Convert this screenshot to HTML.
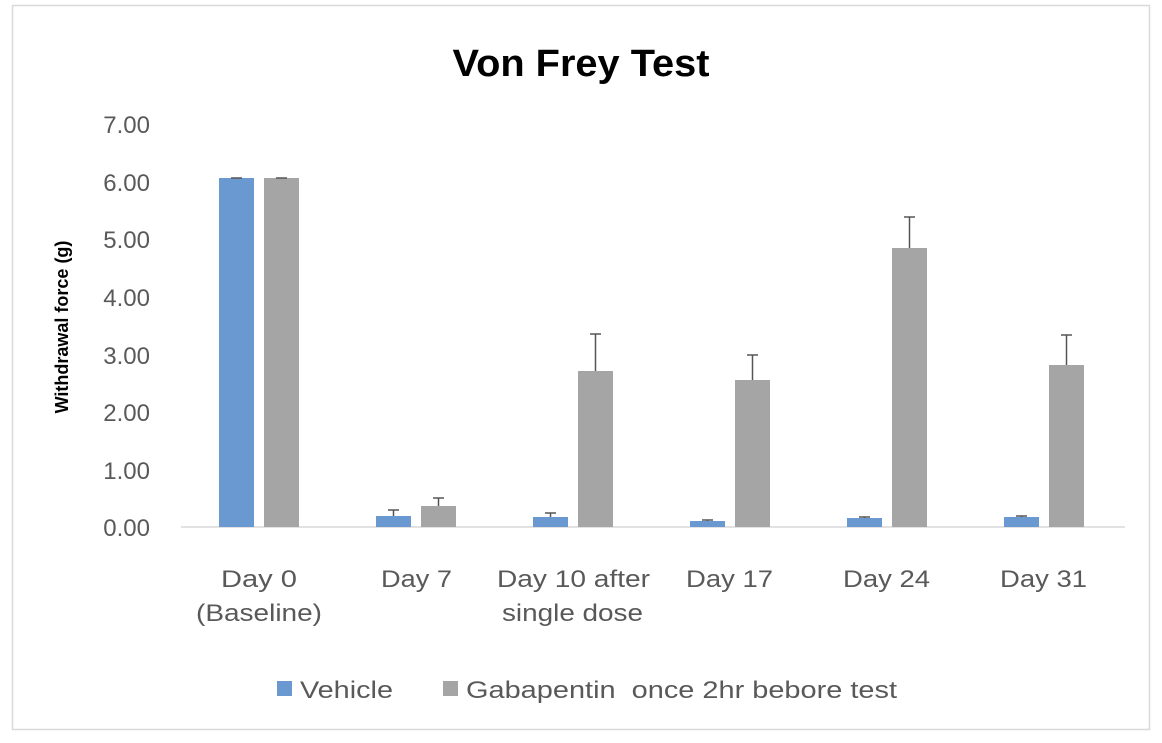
<!DOCTYPE html>
<html><head><meta charset="utf-8"><style>
body{margin:0;background:#fff;}
svg text{font-family:"Liberation Sans",sans-serif;}
</style></head><body>
<svg width="1162" height="738" viewBox="0 0 1162 738" xmlns="http://www.w3.org/2000/svg">
<rect x="0" y="0" width="1162" height="738" fill="#fff"/>
<rect x="12.5" y="5.5" width="1137" height="724" fill="#fff" stroke="#d9d9d9" stroke-width="1.5"/>
<text x="581" y="76" text-anchor="middle" font-size="38" font-weight="bold" fill="#000" textLength="257" lengthAdjust="spacingAndGlyphs">Von Frey Test</text>
<g font-size="24" fill="#595959" text-anchor="end">
<text x="150" y="536">0.00</text>
<text x="150" y="479">1.00</text>
<text x="150" y="421">2.00</text>
<text x="150" y="364">3.00</text>
<text x="150" y="306">4.00</text>
<text x="150" y="248">5.00</text>
<text x="150" y="191">6.00</text>
<text x="150" y="133">7.00</text>
</g>
<text transform="translate(68,327) rotate(-90)" text-anchor="middle" font-size="18" font-weight="bold" fill="#000">Withdrawal force (g)</text>
<line x1="181" y1="527" x2="1125" y2="527" stroke="#d9d9d9" stroke-width="1.5"/>
<g>
<rect x="219" y="178" width="35" height="349" fill="#6a98d0"/>
<rect x="264" y="178" width="35" height="349" fill="#a5a5a5"/>
<rect x="376" y="516" width="35" height="11" fill="#6a98d0"/>
<rect x="421" y="506" width="35" height="21" fill="#a5a5a5"/>
<rect x="533" y="517" width="35" height="10" fill="#6a98d0"/>
<rect x="578" y="371" width="35" height="156" fill="#a5a5a5"/>
<rect x="690" y="521" width="35" height="6" fill="#6a98d0"/>
<rect x="735" y="380" width="35" height="147" fill="#a5a5a5"/>
<rect x="847" y="518" width="35" height="9" fill="#6a98d0"/>
<rect x="892" y="248" width="35" height="279" fill="#a5a5a5"/>
<rect x="1004" y="517" width="35" height="10" fill="#6a98d0"/>
<rect x="1049" y="365" width="35" height="162" fill="#a5a5a5"/>
</g>
<g stroke="#555" stroke-width="1.5">
<line x1="231" y1="178" x2="242" y2="178"/><line x1="276" y1="178" x2="287" y2="178"/>
<line x1="393.5" y1="516" x2="393.5" y2="510"/><line x1="388" y1="510" x2="399" y2="510"/>
<line x1="438.5" y1="506" x2="438.5" y2="498"/><line x1="433" y1="498" x2="444" y2="498"/>
<line x1="550.5" y1="517" x2="550.5" y2="513"/><line x1="545" y1="513" x2="556" y2="513"/>
<line x1="595.5" y1="371" x2="595.5" y2="334"/><line x1="590" y1="334" x2="601" y2="334"/>
<line x1="707.5" y1="521" x2="707.5" y2="520"/><line x1="702" y1="520" x2="713" y2="520"/>
<line x1="752.5" y1="380" x2="752.5" y2="355"/><line x1="747" y1="355" x2="758" y2="355"/>
<line x1="864.5" y1="518" x2="864.5" y2="517"/><line x1="859" y1="517" x2="870" y2="517"/>
<line x1="909.5" y1="248" x2="909.5" y2="217"/><line x1="904" y1="217" x2="915" y2="217"/>
<line x1="1021.5" y1="517" x2="1021.5" y2="516"/><line x1="1016" y1="516" x2="1027" y2="516"/>
<line x1="1066.5" y1="365" x2="1066.5" y2="335"/><line x1="1061" y1="335" x2="1072" y2="335"/>
</g>
<g font-size="24" fill="#595959" lengthAdjust="spacingAndGlyphs">
<text x="221" y="587" textLength="76" lengthAdjust="spacingAndGlyphs">Day 0</text>
<text x="196" y="621" textLength="126" lengthAdjust="spacingAndGlyphs">(Baseline)</text>
<text x="381" y="587" textLength="71" lengthAdjust="spacingAndGlyphs">Day 7</text>
<text x="497" y="587" textLength="153" lengthAdjust="spacingAndGlyphs">Day 10 after</text>
<text x="502" y="621" textLength="141" lengthAdjust="spacingAndGlyphs">single dose</text>
<text x="686" y="587" textLength="87" lengthAdjust="spacingAndGlyphs">Day 17</text>
<text x="843" y="587" textLength="87" lengthAdjust="spacingAndGlyphs">Day 24</text>
<text x="1000" y="587" textLength="87" lengthAdjust="spacingAndGlyphs">Day 31</text>
</g>
<rect x="277" y="681" width="15" height="15" fill="#6a98d0"/>
<text x="300" y="698" font-size="24" fill="#595959" textLength="93" lengthAdjust="spacingAndGlyphs">Vehicle</text>
<rect x="443" y="681" width="15" height="15" fill="#a5a5a5"/>
<text x="466" y="698" font-size="24" fill="#595959" xml:space="preserve" textLength="431" lengthAdjust="spacingAndGlyphs">Gabapentin  once 2hr bebore test</text>
</svg>
</body></html>
